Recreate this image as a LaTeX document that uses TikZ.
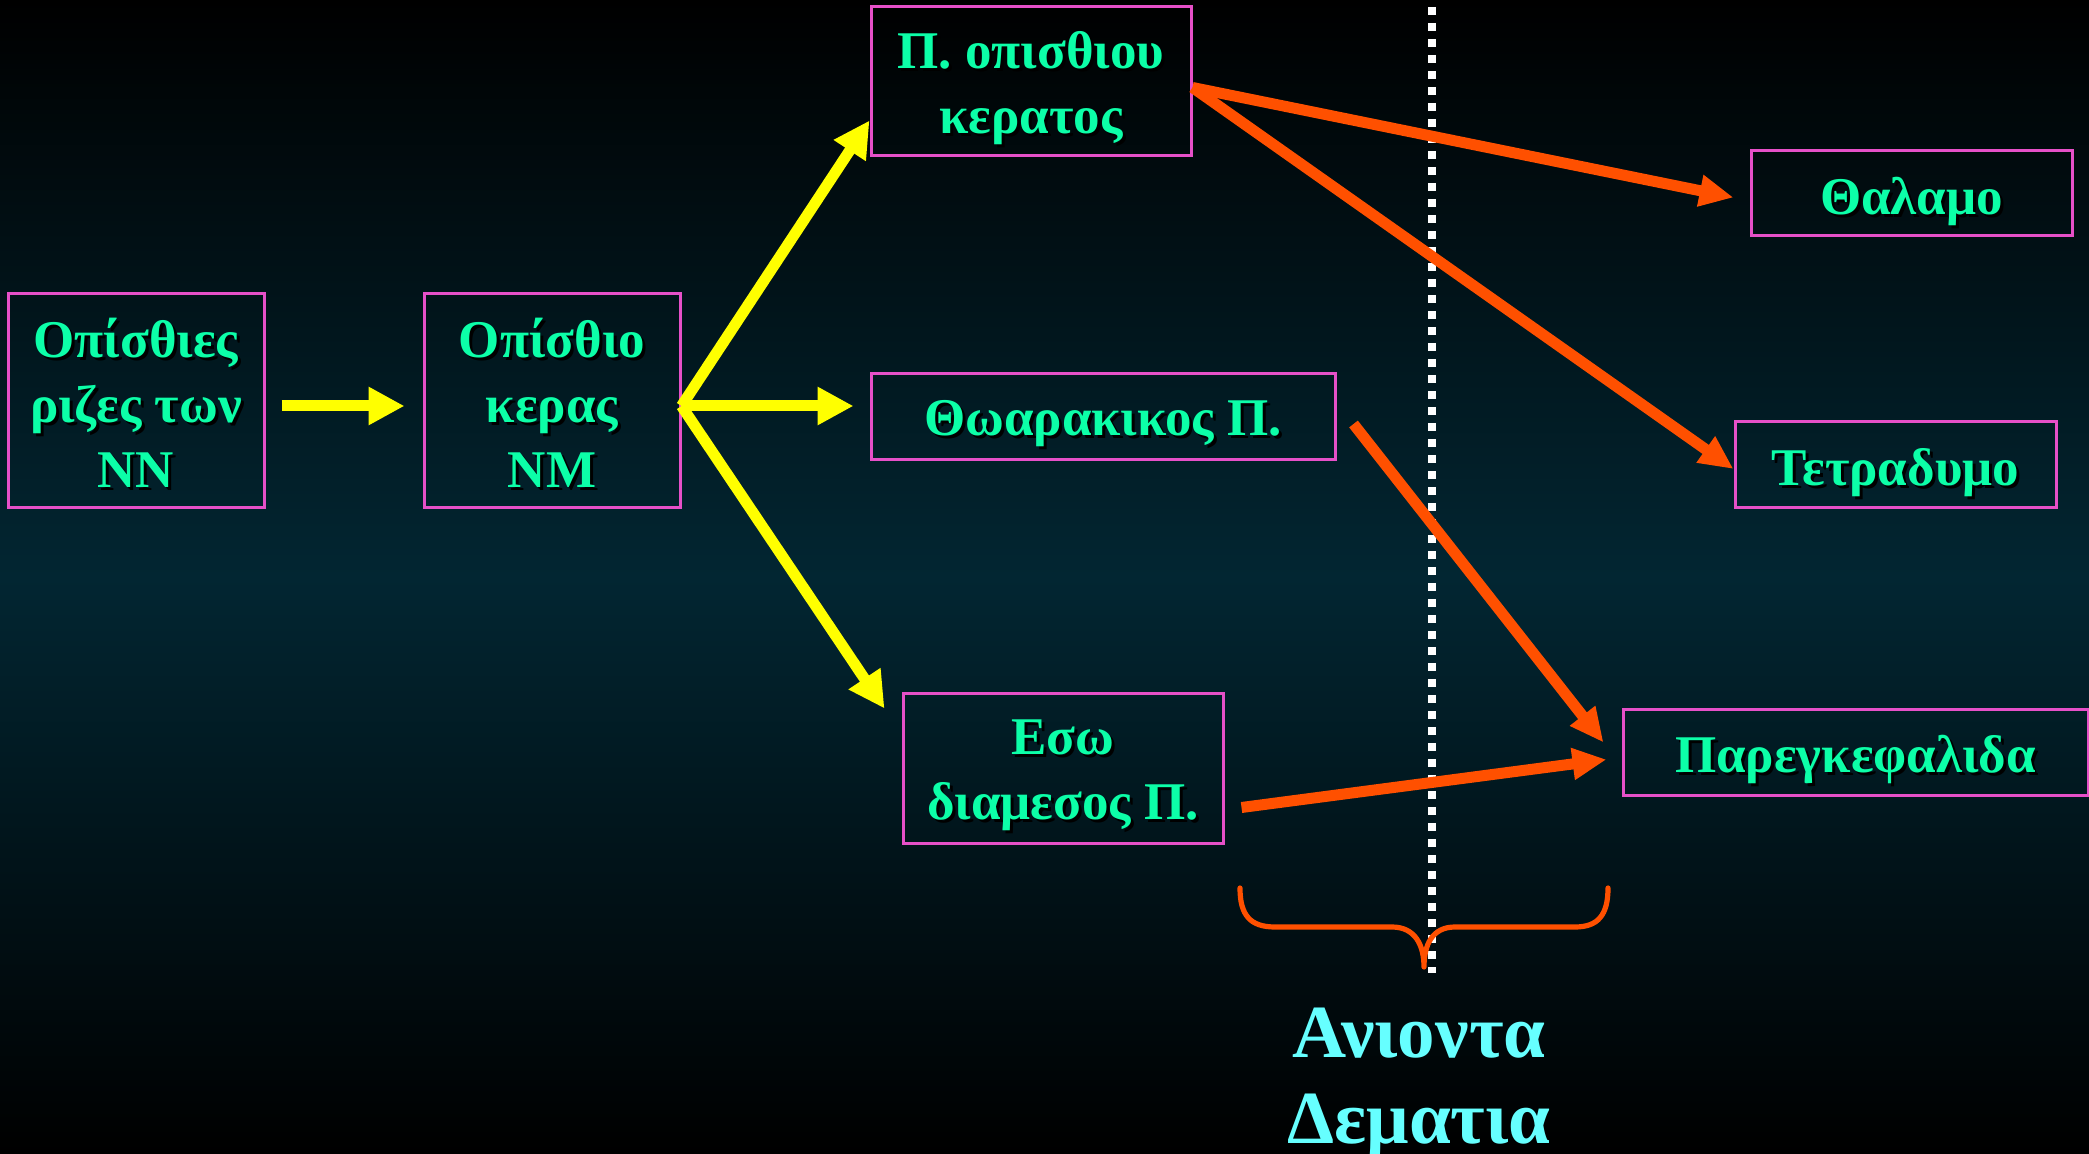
\documentclass[tikz,border=0pt]{standalone}
\usepackage{fontspec}
\setmainfont{Liberation Serif}
\usetikzlibrary{arrows.meta,calc}
\definecolor{bgmid}{RGB}{2,38,50}
\definecolor{txtgreen}{RGB}{12,255,168}
\definecolor{titlecyan}{RGB}{102,255,255}
\definecolor{boxpink}{RGB}{230,80,200}
\definecolor{arryellow}{RGB}{255,255,0}
\definecolor{arrorange}{RGB}{255,80,0}
\tikzset{
  boxst/.style={draw=boxpink, line width=1.5pt, inner sep=0pt},
  txtst/.style={text=txtgreen, font=\fontsize{26.5pt}{32.5pt}\selectfont\bfseries, align=center, inner sep=0pt},
  shadowst/.style={txtst, text=black},
  yarrow/.style={draw=arryellow, line width=5.5pt, -{Triangle[length=18pt,width=18pt]}},
  oarrow/.style={draw=arrorange, line width=5.5pt, -{Triangle[length=17pt,width=15pt]}},
  titlest/.style={text=titlecyan, font=\fontsize{37.5pt}{43pt}\selectfont\bfseries, align=center, inner sep=0pt}
}
% #1 box name, #2 vertical offset (px, downward), #3 text
\newcommand\gtext[3]{%
  \node[shadowst] at ($(#1)+(3,3+#2)$) {#3};
  \node[txtst] (#1t) at ($(#1)+(0,#2)$) {#3};
}
\begin{document}
\begin{tikzpicture}[x=0.5pt,y=-0.5pt]
\useasboundingbox (0,0) rectangle (2089,1154);
\shade[top color=black, bottom color=black, middle color=bgmid] (0,0) rectangle (2089,1154);

% boxes
\node[boxst, minimum width=128pt, minimum height=107pt] (b1) at (136,401) {};
\node[boxst, minimum width=128pt, minimum height=107pt] (b2) at (552,401) {};
\node[boxst, minimum width=160pt, minimum height=74.5pt] (b3) at (1031,81.5) {};
\node[boxst, minimum width=232pt, minimum height=43pt] (b4) at (1103,417) {};
\node[boxst, minimum width=160pt, minimum height=74.5pt] (b5) at (1063,768.5) {};
\node[boxst, minimum width=160.5pt, minimum height=42.5pt] (b6) at (1911.5,193.5) {};
\node[boxst, minimum width=160.5pt, minimum height=43pt] (b7) at (1895.5,465) {};
\node[boxst, minimum width=232.5pt, minimum height=42.5pt] (b8) at (1855.5,752.5) {};

\gtext{b1}{2}{Οπίσθιες\\ριζες των\\NN}
\gtext{b2}{2}{Οπίσθιο\\κερας\\NM}
\gtext{b3}{7}{Π. οπισθιου\\κερατος}
\gtext{b4}{7}{Θωαρακικος Π.}
\gtext{b5}{7}{Εσω\\διαμεσος Π.}
\gtext{b6}{8}{Θαλαμο}
\gtext{b7}{8}{Τετραδυμο}
\gtext{b8}{7}{Παρεγκεφαλιδα}

% dotted divider
\coordinate (dtop) at (1432,7);
\coordinate (dbot) at (1432,973);
\draw[white, line width=4pt, dash pattern=on 4pt off 4pt] (dtop) -- (dbot);

% yellow arrows
\draw[yarrow, shorten <=8pt, shorten >=9pt] (b1.east |- 0,406) -- (b2.west |- 0,406);
\coordinate (ys) at ($(b2.east)+(0,5)$);
\draw[yarrow] (ys) -- ($(b3.west)+(0,39)$);
\draw[yarrow] (ys) -- ($(b4.west)+(-16,-11)$);
\draw[yarrow] (ys) -- ($(b5.north west)+(-17,16)$);

% orange arrows
\coordinate (os) at ($(b3.east)+(0,6)$);
\draw[oarrow] (os) -- ($(b6.west)+(-16,4)$);
\draw[oarrow] (os) -- ($(b7.west)+(0,4)$);
\draw[oarrow] ($(b4.east)+(17,7)$) -- ($(b8.west)+(-18,-10)$);
\draw[oarrow] ($(b5.east)+(17,39)$) -- ($(b8.west)+(-15,7)$);

% brace
\draw[arrorange, line width=2.6pt, line cap=round, line join=round]
  (1240,888) .. controls (1240,915) and (1250,927) .. (1275,927) -- (1392,927)
  .. controls (1415,927) and (1424,945) .. (1424,967)
  .. controls (1424,945) and (1432,927) .. (1455,927) -- (1575,927)
  .. controls (1598,927) and (1608,915) .. (1608,888);

% title
\node[titlest] (title) at (1419,1084) {Ανιοντα\\Δεματια};
\end{tikzpicture}
\end{document}
